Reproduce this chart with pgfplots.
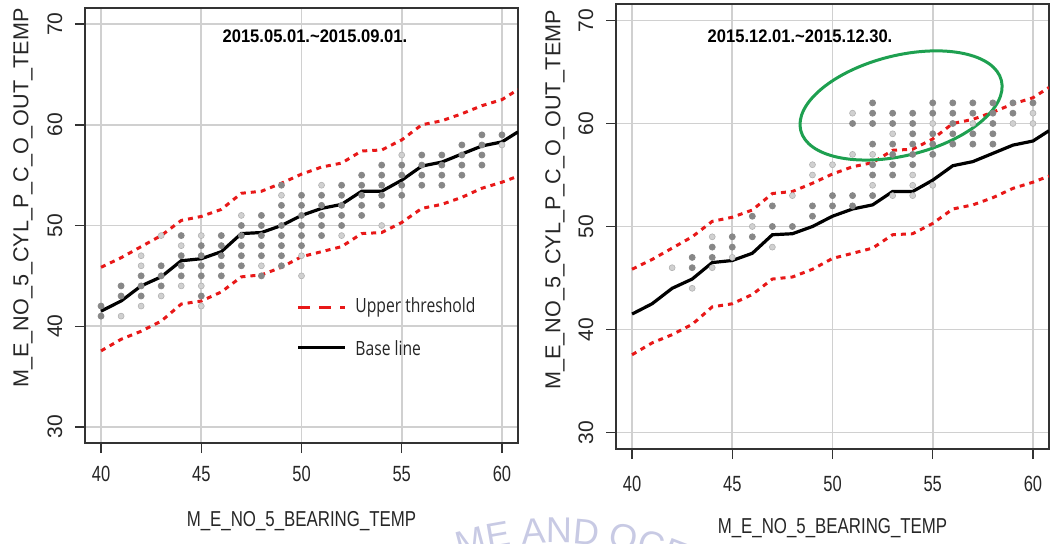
\documentclass[border=0pt]{standalone}
\usepackage{fontspec}
\setmainfont{Liberation Sans}
\newfontfamily\legfont{Open Sans}
\usepackage{graphicx}
\usepackage{pgfplots}
\usepackage{pgfplotstable}
\pgfplotsset{compat=1.18}
\usetikzlibrary{shapes.geometric,decorations.text}

\definecolor{thr}{RGB}{232,24,24}
\definecolor{ptdark}{RGB}{135,135,135}
\definecolor{ptlight}{RGB}{208,208,208}
\definecolor{gridc}{RGB}{208,208,208}
\definecolor{ringgreen}{RGB}{30,160,80}
\definecolor{wm}{RGB}{200,202,228}

% base line and thresholds (same model in both panels)
\pgfplotstableread{
x    base  up    lo
40   41.5  45.85 37.55
41   42.5  46.8  38.7
42   44.0  47.9  39.5
43   44.9  49.0  40.5
44   46.5  50.5  42.2
45   46.7  50.9  42.5
46   47.4  51.6  43.4
47   49.2  53.2  44.9
48   49.3  53.4  45.1
49   50.0  54.2  45.85
50   51.0  55.1  46.9
51   51.7  55.8  47.4
52   52.1  56.2  47.9
53   53.4  57.4  49.2
54   53.4  57.5  49.3
55   54.5  58.5  50.3
56   55.9  60.0  51.7
57   56.3  60.4  52.1
58   57.1  61.1  52.8
59   57.9  61.9  53.7
60   58.3  62.5  54.3
60.8 59.3  63.5  54.9
}\modeltab

\pgfplotsset{
  panel/.style={
    scale only axis,
    xmin=39.2, xmax=60.8, ymin=28.4, ymax=71.6,
    xtick={40,45,...,60}, ytick={30,40,...,70},
    grid=major, major grid style={gridc, line width=0.8pt},
    axis line style={black!80, line width=0.9pt},
    tick align=outside, tick pos=left, major tick length=5pt,
    tick style={black!80, line width=0.7pt},
    /pgf/number format/assume math mode=true,
    xticklabel={\scalebox{0.75}[1]{\pgfmathprintnumber{\tick}}},
    xticklabel style={font=\fontsize{11}{13}\selectfont, text=black!85, anchor=center},
    yticklabel style={font=\fontsize{10.5}{12}\selectfont, text=black!85, xshift=-10pt, rotate=90, anchor=center},
    xlabel={\scalebox{0.78}[1]{M\_E\_NO\_5\_BEARING\_TEMP}},
    ylabel={M\_E\_NO\_5\_CYL\_P\_C\_O\_OUT\_TEMP},
    label style={font=\fontsize{10.8}{12}\selectfont, text=black!85},
  },
  darkpts/.style={only marks, mark=*, mark size=1.5pt, color=ptdark, mark options={fill=ptdark, draw=ptdark}},
  lightpts/.style={only marks, mark=*, mark size=1.5pt, color=ptlight, mark options={fill=ptlight, draw=gray!60, line width=0.3pt}},
  thrline/.style={thr, line width=1.5pt, dash pattern=on 2.5pt off 2.5pt},
  baseline/.style={black, line width=1.6pt},
}

\begin{document}
\begin{tikzpicture}
\useasboundingbox (0,0) rectangle (526pt,271.5pt);

% watermark
\path[decorate, decoration={text along path, text align=center,
  text={|\fontsize{18}{18}\selectfont\color{wm}|ME AND OCEA}}]
  (278pt,-160pt) ++(130:160pt) arc[start angle=130, end angle=40, radius=160pt];

% left panel
\begin{axis}[panel,
  at={(42.5pt,50pt)}, anchor=south west,
  width=216.5pt, height=217.5pt,
  xticklabel style={yshift=-10.5pt},
  xlabel style={at={(axis description cs:0.5,-0.1793)}, anchor=center},
  ylabel style={at={(axis description cs:-0.1432,0.563)}, anchor=center},
]
\addplot[lightpts] coordinates {
 (41,41) (42,47) (42,46) (42,42) (43,49) (43,43) (44,48) (44,44)
 (45,49) (45,44) (45,42) (47,51) (48,46) (49,53) (50,47) (50,45)
 (51,54) (52,49) (54,50) (55,57) (60,58)
};
\addplot[darkpts] coordinates {
 (40,42) (40,41) (41,44) (41,43) (42,45) (42,44) (42,43)
 (43,46) (43,45) (43,44) (44,49) (44,47) (44,46) (44,45)
 (45,48) (45,47) (45,46) (45,45) (45,43)
 (46,49) (46,48) (46,47) (46,46) (46,45)
 (47,50) (47,49) (47,48) (47,47) (47,46)
 (48,51) (48,50) (48,49) (48,48) (48,47) (48,45)
 (49,54) (49,52) (49,51) (49,50) (49,49) (49,48) (49,47) (49,46)
 (50,53) (50,52) (50,51) (50,50) (50,49) (50,48)
 (51,53) (51,52) (51,51) (51,50) (51,49)
 (52,54) (52,53) (52,52) (52,51) (52,50)
 (53,55) (53,54) (53,53) (53,52) (53,51)
 (54,56) (54,55) (54,54) (54,53) (54,52)
 (55,56) (55,55) (55,54) (55,53)
 (56,57) (56,56) (56,55) (56,54)
 (57,57) (57,56) (57,55) (57,54)
 (58,58) (58,57) (58,56) (58,55)
 (59,59) (59,58) (59,57) (59,56)
 (60,59)
};
\addplot[thrline] table[x=x, y=up] {\modeltab};
\addplot[thrline] table[x=x, y=lo] {\modeltab};
\addplot[baseline] table[x=x, y=base] {\modeltab};

\node[font=\bfseries\fontsize{9.1}{11}\selectfont] at (axis cs:50.67,68.83)
  {\scalebox{0.91}[1]{2015.05.01.\textasciitilde 2015.09.01.}};
% legend
\draw[thr, line width=1.5pt, dash pattern=on 6pt off 4.5pt] (axis cs:49.83,41.84) -- (axis cs:52.17,41.84);
\node[anchor=west, inner sep=0pt, text=black!85, font=\legfont\fontsize{9.8}{11}\selectfont] at (axis cs:52.67,41.84)
  {\scalebox{0.8}[1]{Upper threshold}};
\draw[black, line width=1.6pt] (axis cs:49.83,37.86) -- (axis cs:52.17,37.86);
\node[anchor=west, inner sep=0pt, text=black!85, font=\legfont\fontsize{9.8}{11}\selectfont] at (axis cs:52.67,37.86)
  {\scalebox{0.8}[1]{Base line}};
\end{axis}

% right panel
\begin{axis}[panel,
  at={(308pt,47pt)}, anchor=south west,
  width=216.5pt, height=222.5pt,
  xticklabel style={yshift=-12.5pt},
  xlabel style={at={(axis description cs:0.5,-0.1775)}, anchor=center},
  ylabel style={at={(axis description cs:-0.1409,0.56)}, anchor=center},
]
\addplot[lightpts] coordinates {
 (42,46) (43,44) (44,49) (44,46) (45,47) (46,50) (47,48) (48,53)
 (49,56) (49,55) (50,56) (51,61) (51,57) (52,57) (52,54) (53,59) (53,53)
 (54,55) (54,54) (54,53) (55,60) (55,54) (57,60) (59,60) (60,61) (60,60)
};
\addplot[darkpts] coordinates {
 (43,47) (43,46) (44,48) (44,47) (45,49) (45,48) (46,51) (46,49)
 (47,52) (47,50) (48,50) (49,52) (49,51) (50,53) (50,52)
 (51,60) (51,53) (51,52)
 (52,62) (52,61) (52,60) (52,58) (52,56) (52,55) (52,53)
 (53,61) (53,60) (53,58) (53,57) (53,56) (53,55)
 (54,61) (54,60) (54,59) (54,58) (54,57) (54,56)
 (55,62) (55,61) (55,59) (55,58) (55,57)
 (56,62) (56,61) (56,60) (56,59) (56,58)
 (57,62) (57,61) (57,59) (57,58)
 (58,62) (58,61) (58,60) (58,59) (58,58)
 (59,62) (59,61) (60,62)
};
\addplot[thrline] table[x=x, y=up] {\modeltab};
\addplot[thrline] table[x=x, y=lo] {\modeltab};
\addplot[baseline] table[x=x, y=base] {\modeltab};

\node[font=\bfseries\fontsize{9.1}{11}\selectfont] at (axis cs:48.38,68.45)
  {\scalebox{0.91}[1]{2015.12.01.\textasciitilde 2015.12.30.}};
\node[draw=ringgreen, line width=1.5pt, ellipse, inner sep=0pt, rotate=14,
  minimum width=103.4pt, minimum height=50pt] at (axis cs:53.42,61.75) {};
\end{axis}
\end{tikzpicture}
\end{document}
